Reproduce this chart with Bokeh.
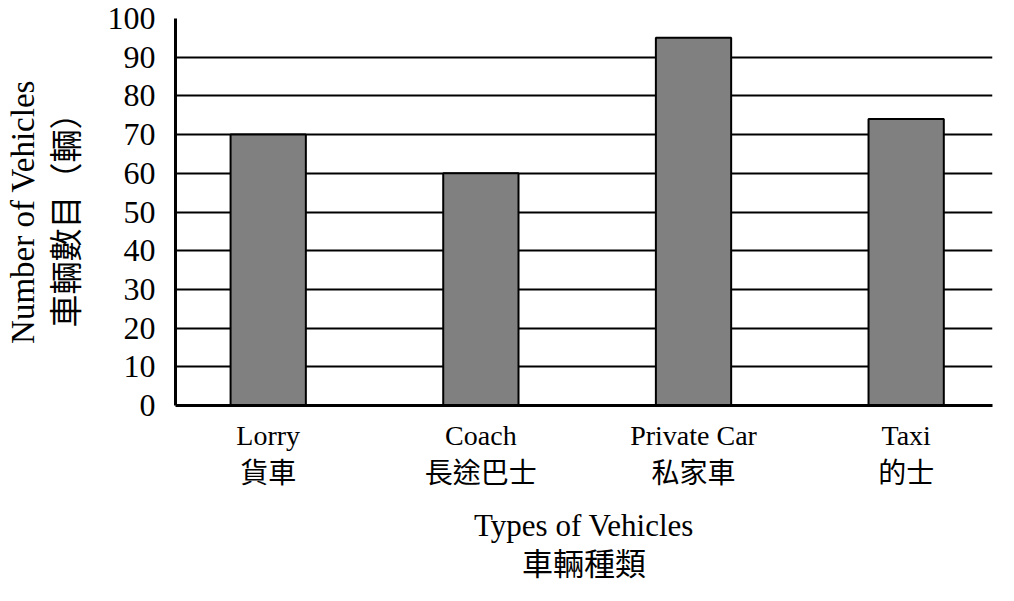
from bokeh.plotting import figure
from bokeh.models import Range1d, FixedTicker
from bokeh.embed import file_html
from bokeh.resources import INLINE

categories = ["Lorry\n貨車", "Coach\n長途巴士", "Private Car\n私家車", "Taxi\n的士"]
counts = [70, 60, 95, 74]
y_ticks = [0, 10, 20, 30, 40, 50, 60, 70, 80, 90, 100]

xs = list(range(len(categories)))
FONT = "'Liberation Serif', 'Noto Sans CJK TC', serif"

p = figure(width=998, height=585, output_backend="svg", toolbar_location=None,
           x_range=Range1d(-0.436, 3.406), y_range=Range1d(0, 100),
           min_border_left=175, min_border_right=6, min_border_top=18, min_border_bottom=180)
p.outline_line_color = None
p.background_fill_color = "white"
p.border_fill_color = "white"

p.vbar(x=xs, top=counts, width=0.354, bottom=0, fill_color="#808080",
       line_color="black", line_width=2)

p.xaxis.ticker = FixedTicker(ticks=xs)
p.xaxis.major_label_overrides = {i: c for i, c in zip(xs, categories)}
p.yaxis.ticker = FixedTicker(ticks=y_ticks)

for ax in (p.xaxis, p.yaxis):
    ax.axis_line_width = 3
    ax.axis_line_color = "black"
    ax.major_tick_line_color = None
    ax.minor_tick_line_color = None
    ax.major_label_text_font = FONT
    ax.major_label_text_color = "black"
    ax.axis_label_text_font = FONT
    ax.axis_label_text_font_style = "normal"
    ax.axis_label_text_color = "black"

p.yaxis.major_label_text_font_size = "32px"
p.yaxis.major_label_standoff = 14
p.yaxis.axis_label_text_font_size = "33px"
p.xaxis.major_label_text_font_size = "28px"
p.xaxis.major_label_standoff = 8
p.xaxis.major_label_text_line_height = 1.25
p.xaxis.axis_label_text_font_size = "31px"
p.xaxis.axis_label_text_line_height = 1.1

p.yaxis.axis_label = "Number of Vehicles\n車輛數目（輛）"
p.yaxis.axis_label_standoff = 20
p.xaxis.axis_label = "Types of Vehicles\n車輛種類"
p.xaxis.axis_label_standoff = 16

p.xgrid.grid_line_color = None
p.ygrid.ticker = FixedTicker(ticks=y_ticks)
p.ygrid.grid_line_color = "black"
p.ygrid.grid_line_width = 2

open("out.html", "w").write(file_html(p, INLINE))
